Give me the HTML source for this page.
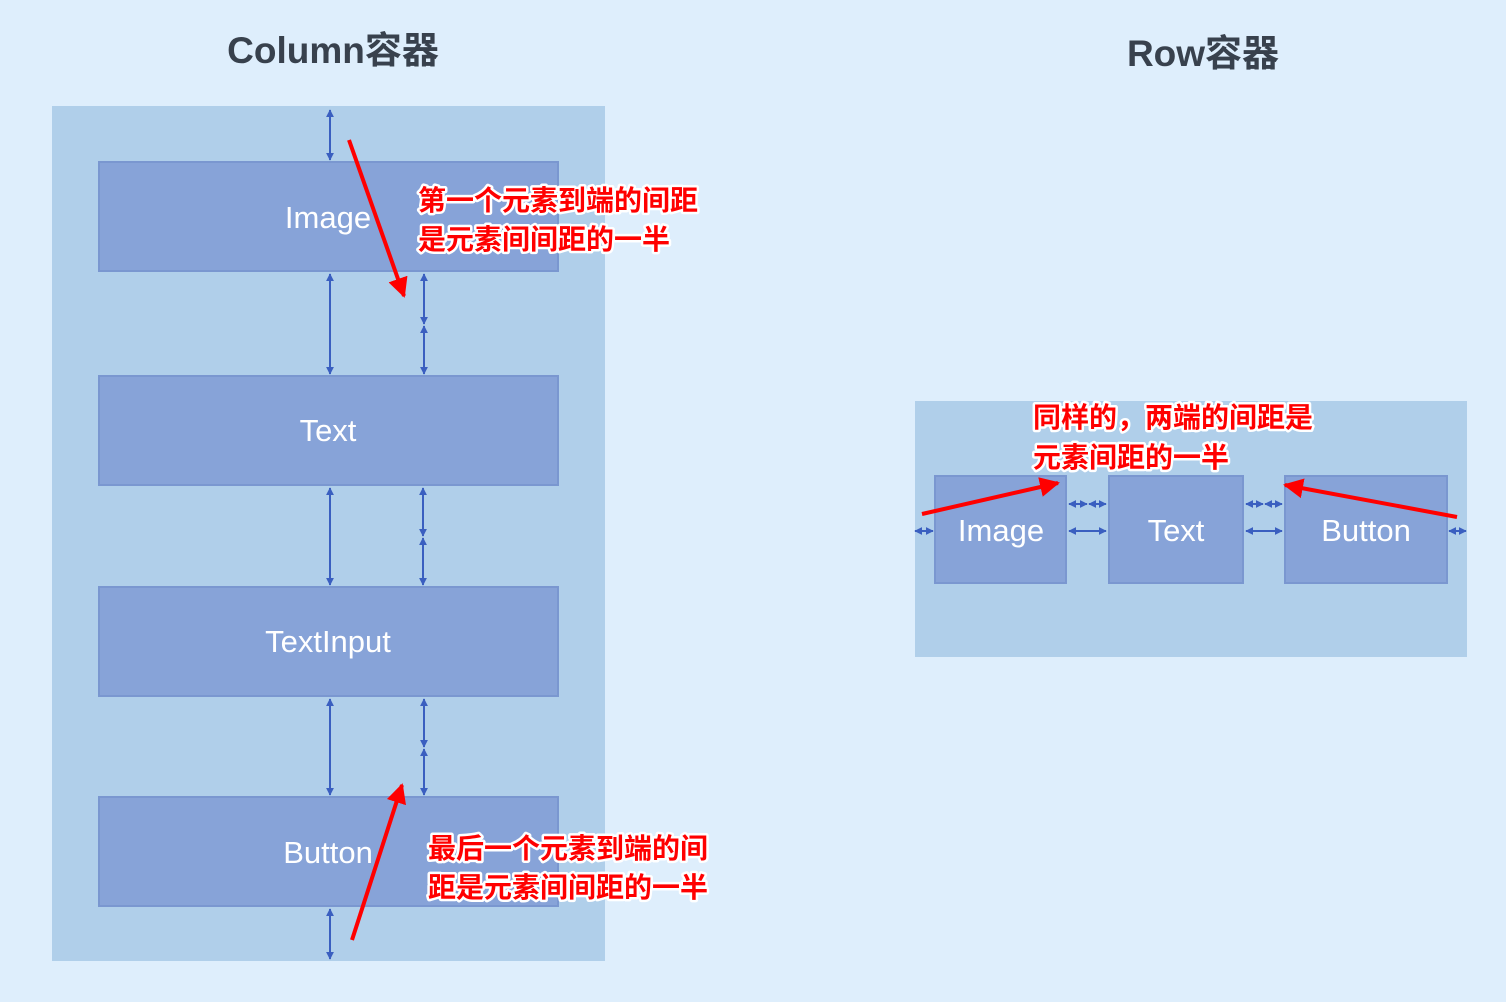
<!DOCTYPE html>
<html><head><meta charset="utf-8"><style>
html,body{margin:0;padding:0;background:#deeefc;}
svg{display:block}
.t{font-family:"Liberation Sans","Noto Sans CJK SC",sans-serif;}
.lbl{fill:#fff;font-size:31px;text-anchor:middle;font-family:"Liberation Sans","Noto Sans CJK SC",sans-serif;}
.red{fill:#f00;font-size:28px;font-weight:bold;stroke:#fff;stroke-width:5px;paint-order:stroke;stroke-linejoin:round;font-family:"Noto Sans CJK SC",sans-serif;}
</style></head><body>
<svg width="1506" height="1002" viewBox="0 0 1506 1002" xmlns="http://www.w3.org/2000/svg">
<defs>
<marker id="a" viewBox="0 0 10 10" refX="9" refY="5" markerWidth="4" markerHeight="4" orient="auto-start-reverse"><path d="M0,0L10,5L0,10z" fill="#3a5fc0"/></marker>
<marker id="r" viewBox="0 0 10 10" refX="9" refY="5" markerWidth="5" markerHeight="5" orient="auto"><path d="M0,0L10,5L0,10z" fill="#f00"/></marker>
</defs>
<rect width="1506" height="1002" fill="#deeefc"/>
<text x="333" y="63" class="t" font-size="37" font-weight="bold" fill="#38414d" text-anchor="middle" font-family="Liberation Sans,Noto Sans CJK SC,sans-serif">Column容器</text>
<text x="1203" y="66" class="t" font-size="37" font-weight="bold" fill="#38414d" text-anchor="middle" font-family="Liberation Sans,Noto Sans CJK SC,sans-serif">Row容器</text>

<rect x="52" y="106" width="553" height="855" fill="#b0cfea"/>
<g fill="#87a3d8" stroke="#7a97d0" stroke-width="2">
<rect x="99" y="162" width="459" height="109"/>
<rect x="99" y="376" width="459" height="109"/>
<rect x="99" y="587" width="459" height="109"/>
<rect x="99" y="797" width="459" height="109"/>
</g>
<text x="328" y="228" class="lbl">Image</text>
<text x="328" y="441" class="lbl">Text</text>
<text x="328" y="652" class="lbl">TextInput</text>
<text x="328" y="863" class="lbl">Button</text>
<g stroke="#3a5fc0" stroke-width="2" marker-start="url(#a)" marker-end="url(#a)">
<line x1="330" y1="110" x2="330" y2="160"/>
<line x1="330" y1="274" x2="330" y2="374"/>
<line x1="330" y1="488" x2="330" y2="585"/>
<line x1="330" y1="699" x2="330" y2="795"/>
<line x1="330" y1="909" x2="330" y2="959"/>
<line x1="424" y1="274" x2="424" y2="324"/>
<line x1="424" y1="326" x2="424" y2="374"/>
<line x1="423" y1="488" x2="423" y2="536"/>
<line x1="423" y1="538" x2="423" y2="585"/>
<line x1="424" y1="699" x2="424" y2="747"/>
<line x1="424" y1="749" x2="424" y2="795"/>
</g>

<rect x="915" y="401" width="552" height="256" fill="#b0cfea"/>
<g fill="#87a3d8" stroke="#7a97d0" stroke-width="2">
<rect x="935" y="476" width="131" height="107"/>
<rect x="1109" y="476" width="134" height="107"/>
<rect x="1285" y="476" width="162" height="107"/>
</g>
<text x="1001" y="541" class="lbl">Image</text>
<text x="1176" y="541" class="lbl">Text</text>
<text x="1366" y="541" class="lbl">Button</text>
<g stroke="#3a5fc0" stroke-width="2" marker-start="url(#a)" marker-end="url(#a)">
<line x1="1069" y1="531" x2="1106" y2="531"/>
<line x1="1246" y1="531" x2="1282" y2="531"/>
<line x1="1069" y1="504" x2="1087" y2="504"/>
<line x1="1089" y1="504" x2="1106" y2="504"/>
<line x1="1246" y1="504" x2="1263" y2="504"/>
<line x1="1265" y1="504" x2="1282" y2="504"/>
<line x1="915" y1="531" x2="933" y2="531"/>
<line x1="1449" y1="531" x2="1466" y2="531"/>
</g>

<g stroke="#f00" stroke-width="4" marker-end="url(#r)">
<line x1="349" y1="140" x2="404" y2="296"/>
<line x1="352" y1="940" x2="402" y2="785"/>
<line x1="922" y1="514" x2="1058" y2="483"/>
<line x1="1457" y1="517" x2="1285" y2="485"/>
</g>
<text x="418" y="210" class="red">第一个元素到端的间距</text>
<text x="418" y="249" class="red">是元素间间距的一半</text>
<text x="428" y="858" class="red">最后一个元素到端的间</text>
<text x="428" y="897" class="red">距是元素间间距的一半</text>
<text x="1033" y="427" class="red">同样的，两端的间距是</text>
<text x="1033" y="467" class="red">元素间距的一半</text>
</svg>
</body></html>
